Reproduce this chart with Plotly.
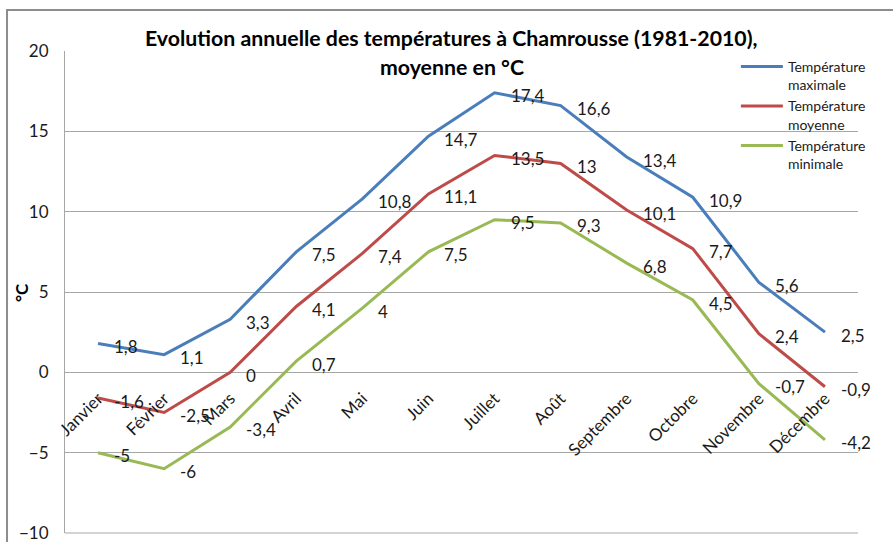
import plotly.graph_objects as go

mois = ["Janvier", "Février", "Mars", "Avril", "Mai", "Juin", "Juillet",
        "Août", "Septembre", "Octobre", "Novembre", "Décembre"]
t_max = [1.8, 1.1, 3.3, 7.5, 10.8, 14.7, 17.4, 16.6, 13.4, 10.9, 5.6, 2.5]
t_moy = [-1.6, -2.5, 0, 4.1, 7.4, 11.1, 13.5, 13, 10.1, 7.7, 2.4, -0.9]
t_min = [-5, -6, -3.4, 0.7, 4, 7.5, 9.5, 9.3, 6.8, 4.5, -0.7, -4.2]
y_ticks = [-10, -5, 0, 5, 10, 15, 20]

series = [
    ("Température<br>maximale", t_max, "#4a7ebb"),
    ("Température<br>moyenne", t_moy, "#be4b48"),
    ("Température<br>minimale", t_min, "#98b954"),
]

FONT = "Lato"
TXT = "#1a1a1a"
GRID = "#a6a6a6"


def fmt(v):
    return f"{v:g}".replace(".", ",")


fig = go.Figure()
annotations = []
for name, vals, col in series:
    fig.add_trace(go.Scatter(
        x=mois, y=vals, name=name, mode="lines",
        line=dict(color=col, width=3),
    ))
    for m, v in zip(mois, vals):
        annotations.append(dict(
            x=m, y=v, xref="x", yref="y", text=fmt(v), showarrow=False,
            xanchor="left", yanchor="middle", xshift=14, yshift=-3,
            font=dict(family=FONT, size=17, color=TXT),
        ))

# title (two lines)
annotations.append(dict(
    xref="paper", yref="paper", x=0.488, xanchor="center", y=1,
    yanchor="middle", yshift=13,
    text="<b>Evolution annuelle des températures à Chamrousse (1981-2010),</b>",
    showarrow=False, font=dict(family=FONT, size=21.3, color="#000000"),
))
annotations.append(dict(
    xref="paper", yref="paper", x=0.488, xanchor="center", y=1,
    yanchor="middle", yshift=-16,
    text="<b>moyenne en °C</b>",
    showarrow=False, font=dict(family=FONT, size=21.3, color="#000000"),
))
# y axis title
annotations.append(dict(
    xref="paper", yref="paper", x=-0.0555, xanchor="center", y=0.5,
    yanchor="middle", textangle=-90,
    text="<b>°C</b>", showarrow=False,
    font=dict(family=FONT, size=17, color="#000000"),
))

fig.update_layout(
    width=893, height=542,
    margin=dict(l=65, r=35, t=51, b=9, autoexpand=False),
    paper_bgcolor="white", plot_bgcolor="white",
    showlegend=True,
    legend=dict(
        x=0.846, y=1.0, xanchor="left", yanchor="top", yref="paper",
        xref="paper",
        bgcolor="rgba(0,0,0,0)", valign="top", itemwidth=42,
        font=dict(family=FONT, size=14, color=TXT),
        tracegroupgap=0,
    ),
    annotations=annotations,
    shapes=[
        dict(
            type="rect", xref="paper", yref="paper",
            x0=-0.0731, x1=1.2, y0=-0.2, y1=1.085,
            line=dict(color="#8c8c8c", width=2), fillcolor="rgba(0,0,0,0)",
            layer="below",
        ),
        dict(
            type="line", xref="x domain", yref="y domain",
            x0=0, x1=1, y0=0, y1=0,
            line=dict(color=GRID, width=1), layer="below",
        ),
    ],
    xaxis=dict(
        type="category", range=[-0.5, 11.5], anchor="free", position=1 / 3,
        showgrid=False, showline=False, ticks="", tickangle=-45,
        tickfont=dict(family=FONT, size=17, color=TXT),
        ticklabelstandoff=12, automargin=False,
    ),
    yaxis=dict(
        range=[-10, 20], tickvals=y_ticks, showgrid=True, gridcolor=GRID,
        gridwidth=1, zeroline=True, zerolinecolor=GRID, zerolinewidth=1,
        showline=True, linecolor=GRID, linewidth=1, ticks="",
        tickfont=dict(family=FONT, size=17, color=TXT),
        ticklabelstandoff=12, domain=[0, 1], automargin=False,
        ticklabeloverflow="allow",
    ),
)

fig.write_html("out.html", config={"displayModeBar": False},
               post_script="document.body.style.margin='0';")
